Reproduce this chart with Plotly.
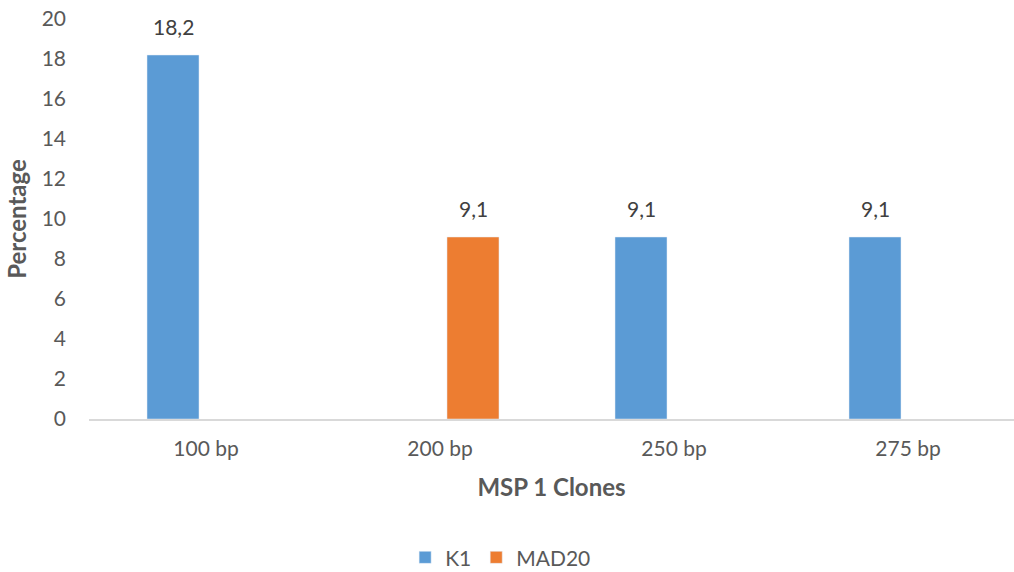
import plotly.graph_objects as go

categories = ["100 bp", "200 bp", "250 bp", "275 bp"]
k1_values = [18.2, None, 9.1, 9.1]
mad20_values = [None, 9.1, None, None]
y_ticks = [0, 2, 4, 6, 8, 10, 12, 14, 16, 18, 20]

font_family = "Lato, 'Open Sans', sans-serif"
text_color = "#595959"
label_color = "#404040"

fig = go.Figure()
fig.add_trace(go.Bar(name="K1", x=categories, y=k1_values, marker_color="#5B9BD5",
                     offsetgroup="k1"))
fig.add_trace(go.Bar(name="MAD20", x=categories, y=mad20_values, marker_color="#ED7D31",
                     offsetgroup="mad20"))

# data labels (placed through the category/value axes, shifted for the group offset)
slot_shift = 33
for values, shift in ((k1_values, -slot_shift), (mad20_values, slot_shift)):
    for cat, val in zip(categories, values):
        if val is None:
            continue
        fig.add_annotation(
            x=cat, y=val, text=f"{val:.1f}".replace(".", ","),
            xshift=shift, yshift=14, yanchor="bottom", showarrow=False,
            font=dict(size=21, color=label_color, family=font_family),
        )

fig.update_layout(
    width=1014, height=572,
    margin=dict(l=89, r=0, t=19, b=153, autoexpand=False),
    separators=", ",
    barmode="group", bargap=0.436, bargroupgap=0.212,
    plot_bgcolor="white", paper_bgcolor="white",
    font=dict(family=font_family, size=21, color=text_color),
    xaxis=dict(
        range=[-0.5, 3.453], showgrid=False, showline=True,
        linecolor="#D9D9D9", linewidth=2, ticks="",
        tickfont=dict(size=21, color=text_color),
        ticklabelstandoff=10,
        title=dict(text="<b>MSP 1 Clones</b>", font=dict(size=24, color=text_color), standoff=20),
    ),
    yaxis=dict(
        range=[0, 20], tickvals=y_ticks, showgrid=False, showline=False,
        zeroline=False, ticks="", ticklabelstandoff=22,
        tickfont=dict(size=21, color=text_color),
        title=dict(text="<b>Percentage</b>", font=dict(size=24, color=text_color), standoff=8),
    ),
    legend=dict(
        orientation="h", x=0.445, xanchor="center",
        yref="container", y=0.025, yanchor="middle",
        font=dict(size=21, color=text_color),
    ),
)

fig.write_html("out.html")
